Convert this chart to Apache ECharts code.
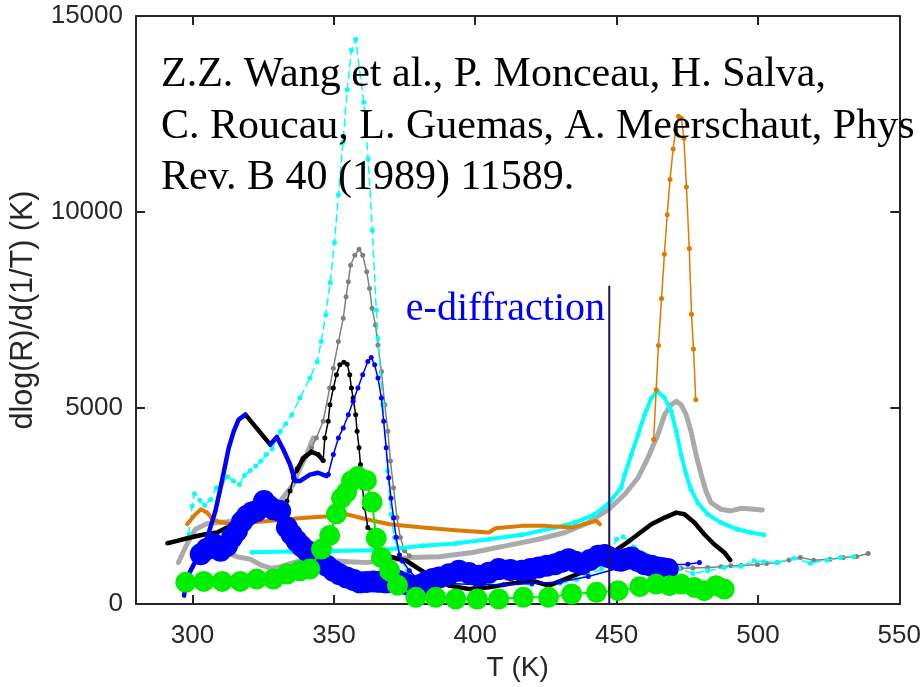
<!DOCTYPE html>
<html><head><meta charset="utf-8">
<script src="https://cdn.jsdelivr.net/npm/echarts@6/dist/echarts.min.js"></script>
<style>html,body{margin:0;padding:0;background:#fff}#c{width:924px;height:687px}</style>
</head><body><div id="c"></div>
<script>
const xTicks = [300,350,400,450,500,550];
const yTicks = [0,5000,10000,15000];
const xTitle = 'T (K)';
const yTitle = 'dlog(R)/d(1/T) (K)';
const refLines = ['Z.Z. Wang et al., P. Monceau, H. Salva,', 'C. Roucau, L. Guemas, A. Meerschaut, Phys', 'Rev. B 40 (1989) 11589.'];
const eLabel = 'e-diffraction';
const eDiffLine = [[447.4,0],[447.4,8100]];

const cyanDash = [[298.7,1780],[299.9,2501],[300.7,2814],[302.6,2644],[304.3,2517],[306.4,2669],[308.4,2966],[310.5,3094],[312.4,3246],[314.5,3137],[316.6,3050],[318.4,3279],[320.4,3406],[322.3,3518],[324.2,3645],[326.1,3813],[328.1,3960],[331,4408],[333,4600],[335.1,4830],[338,5254],[341.5,5763],[344.1,6187],[345.5,6696],[347.1,7372],[348.7,8195],[350.2,9220],[351.6,10440],[353.2,11780],[354.7,13117],[356.2,14134],[357.7,14405],[360.6,12797],[362.1,11355],[363.6,9533],[365,7499],[365.6,6772],[367.3,5080],[369,3391],[370.2,2288],[371.4,1695],[372.6,1441],[374,1100],[376,850],[380,650],[385,560],[390,530],[400,500],[410,490],[420,500],[430,530],[436,620],[440,763],[444.7,890],[448.2,1400],[450,1650],[452.3,1713],[454.5,1600],[456.4,1441],[459.9,1271],[463,1130],[467,1017],[472,900],[477,780],[482.2,849],[488,930],[494,960],[498.6,1103],[502,1080],[506.8,1060],[512.7,1169],[518.6,1042],[524.4,1119],[529.1,1187],[533.8,1205]];

const cyanThick = [[321,1322],[335,1340],[350,1350],[365,1370],[373,1420],[381.4,1484],[393.1,1543],[404.8,1652],[416.5,1764],[428.2,1950],[435.2,2077],[442.2,2288],[446.9,2542],[451.6,2966],[452.9,3305],[455.2,3813],[457.6,4321],[459.9,4830],[462.3,5254],[464.4,5425],[467,5254],[469.3,4916],[471.1,4408],[472.8,3813],[474.6,3305],[476.3,2923],[478.7,2585],[482.2,2288],[486.9,2077],[492.7,1906],[497.4,1823],[502.1,1764]];

const grayUpper = [[295,1060],[298,1525],[301,1906],[305,2050],[309,2077],[315,2110],[322,2170],[328,2350],[331,2628],[335.7,3050],[337.5,3391],[340.4,3813],[342.7,4237]];

const grayDot = [[342.1,3983],[343.8,4237],[346.2,4662],[348.5,5509],[349.8,6017],[351.6,6696],[353.3,7288],[354.3,7840],[355.1,8221],[355.9,8643],[357.4,8897],[358.9,9050],[360.2,8897],[361.6,8475],[362.6,8050],[363.5,7542],[364.7,7118],[365.6,6600],[366.8,5932],[368,5084],[369.1,4408],[370,3645],[371.1,2966],[372.3,2204],[373.5,1695],[375,1357],[376.7,1230]];

const grayDot2 = [[462,960],[466,930],[472.8,915],[477,920],[482.2,933],[486.9,950],[490.4,975],[494,985],[499.8,1000],[503,1030],[506.8,1060],[511,1120],[515,1187],[519.7,1119],[525.5,1144],[530.2,1187],[534.9,1212],[539,1289]];

const grayLower = [[313.4,1271],[316,1200],[320.4,1144],[324,1000],[327.5,915],[330,930],[333.4,1002],[337,1080],[340.4,1103],[345,1100],[349.8,1103],[355,1080],[361.5,1060],[367,1100],[373.2,1144],[376.7,1187],[387.2,1205],[399,1314],[410.7,1484],[422.4,1652],[431.8,1823],[440,2077],[443.5,2250],[447,2400],[452.9,2800],[457.6,3221],[461.1,3729],[464.6,4322],[467,4830],[469.3,5084],[471.1,5170],[472.8,5084],[474.6,4830],[476.3,4408],[478.1,3813],[479.9,3305],[481.6,2882],[483.4,2585],[486.9,2415],[490.4,2374],[494,2440],[498.6,2415],[501.5,2400]];

const orangeLow = [[298.1,2034],[300.5,2247],[302.9,2415],[305.2,2331],[307,2161],[309.9,2090],[314,2034],[320,2080],[327,2120],[333.4,2161],[340,2200],[349.8,2247],[354.5,2288],[361.5,2161],[369.7,2034],[381.4,1950],[393.1,1881],[404.8,1823],[407.2,1932],[416.5,1993],[424.8,1993],[434.1,1950],[442.9,2120],[444.1,2034]];

const orangePeak = [[463.1,4195],[464,5466],[464.8,6594],[465.9,7796],[466.9,8922],[467.9,9932],[468.9,10829],[470,11609],[470.9,12100],[471.9,12440],[472.9,12390],[473.8,11881],[474.7,10636],[475.7,9068],[476.5,7389],[477.2,6508],[478,5211]];

const blackStart = [[291.1,1551],[294.6,1611],[298.1,1678],[301.1,1729],[304.6,1780],[308.7,1823],[312.2,1950]];
const blackKink = [[318.7,4830],[327.5,4067]];
const blackShoulder = [[336.8,3391],[339.2,3729],[342.1,3882],[344.4,3813],[346.2,3660]];
const blackDot = [[329.8,2204],[331.6,2415],[333.4,2628],[334.5,2882],[335.7,3221],[337,3450],[339,3700],[342,3880],[344.4,3813],[346.2,3660],[346.8,4237],[348,4662],[348.6,5084],[349.8,5509],[350.9,5847],[352.1,6101],[353.5,6169],[354.7,6118],[355.6,5847],[356.2,5509],[356.8,5254],[357.7,4830],[358.2,4408],[358.9,3983],[359.4,3559],[360.1,2966],[360.9,2458],[362,1950],[363.2,1866],[363.8,1695],[365,1314]];
const blackTail = [[365,1314],[368,1230],[371,1187],[375.6,1103],[380.2,890],[384.9,679],[390.8,468],[397.8,381],[404.8,424],[413,526],[420,595],[426,468],[431.8,636],[437.7,806],[443.5,1017],[448.2,1300],[452.9,1525],[457.6,1779],[462.3,2034],[467,2204],[471.1,2331],[474,2288],[477.5,2077],[481,1780],[484.5,1525],[488.1,1314],[490.2,1119]];

const blueRise = [[297,214],[298.1,679],[300.5,1017],[303,1350],[305.2,1695],[308.1,2374],[309.9,2966],[311.6,3559],[312.8,3983],[314.6,4408],[316.3,4703],[318.7,4830]];
const blueMid = [[327.5,4067],[329.8,4260],[332.1,3940],[334.5,3559],[336.3,3137],[338,3137],[341.5,3300],[344.4,3348],[347.4,3264],[348,3305]];
const blueDot = [[348,3305],[349.8,3813],[351.6,4237],[353.3,4492],[355.1,4830],[356.8,5170],[358.5,5509],[360.2,5847],[362,6187],[363.2,6289],[364.4,6101],[365.6,5763],[366.8,5254],[367.6,4662],[368.5,3983],[369.4,3221],[370.2,2700],[371.1,2200],[372,1700],[373.2,1250],[374.3,1100],[376.7,849],[380.2,595],[390,520],[400,500],[410,490],[420,520],[430,560],[440,700],[450,900],[460,950],[470,1000],[475.2,1017],[479.3,1060]];

const blueBlobs = [[302.9,1271],[305,1400],[307.6,1525],[309.9,1357],[312.2,1484],[314,1700],[315.7,1866],[317.5,2100],[319.2,2247],[321,2331],[322.7,2374],[325.3,2628],[327,2500],[328.6,2415],[331,2374],[333.4,1950],[335,1780],[336.8,1611],[338.5,1480],[340.4,1357],[342.7,1230],[345.1,1103],[347.5,975],[349.8,849],[352,760],[354.5,679],[357,610],[359.2,552],[361.5,560],[363.9,577],[366,565],[368.5,552],[370.5,580],[372.6,595],[375,520],[377,470],[379,424],[381,500],[383,580],[385,640],[387.2,679],[390.7,760],[394.2,849],[397.7,790],[401.3,722],[404.8,800],[408.3,890],[412.4,870],[416.5,849],[419.5,890],[422.4,933],[425.3,975],[428.2,1017],[430.6,1080],[433,1144],[435.4,1080],[437.7,1017],[440.6,1120],[443.5,1230],[445.8,1250],[447,1200],[449,1150],[451.6,1103],[453.5,1150],[455.2,1187],[457.5,1100],[459.9,1017],[462.3,975],[464.6,933],[466.5,910],[468.1,890]];

const greenBlobs = [[297.6,552],[304,577],[310.5,577],[316.9,577],[322.7,636],[328.6,636],[333.4,763],[338,849],[341.5,890],[345.6,1400],[348.5,1750],[350.9,2300],[352.7,2700],[354.5,2850],[356.2,3137],[358.5,3250],[361.5,3150],[363.5,2600],[365,1680],[366.8,1187],[369.7,849],[372.5,480],[379,170],[386,170],[393.1,127],[400.7,127],[408.3,127],[417,170],[425.9,170],[434.1,254],[442.9,297],[450.5,340],[458.2,442],[464,508],[468.7,468],[472.8,508],[477.5,424],[481,340],[485.2,468],[488.1,381]];

const chart = echarts.init(document.getElementById('c'), null, {renderer:'canvas'});
const AX = '#262626';
function ln(data, color, width, sym, symSize, z, dash){
  return {type:'line', data:data, z:z||2, silent:true, animation:false,
    lineStyle:{color:color, width:width, type:dash?[7,5]:'solid', cap:'round', join:'round'},
    itemStyle:{color:color, borderWidth:0},
    symbol: sym ? 'circle' : 'none', showSymbol: !!sym, symbolSize: symSize||4};
}
function axX(pos, lab){
  return {type:'value', position:pos, min:280, max:550,
    axisLine:{show:true, onZero:false, lineStyle:{color:AX, width:2}},
    axisTick:{show:true, inside:true, length:9, customValues:xTicks, lineStyle:{color:AX, width:2}},
    axisLabel:{show:lab, customValues:xTicks, formatter:(v)=>String(v), color:AX, fontFamily:'Liberation Sans', fontSize:26, margin:19},
    splitLine:{show:false},
    name: lab ? xTitle : '', nameLocation:'middle', nameGap:50,
    nameTextStyle:{color:AX, fontFamily:'Liberation Sans', fontSize:28}};
}
function axY(pos, lab){
  return {type:'value', position:pos, min:0, max:15000, interval:5000,
    axisLine:{show:true, onZero:false, lineStyle:{color:AX, width:2}},
    axisTick:{show:true, inside:true, length:9, lineStyle:{color:AX, width:2}},
    axisLabel:{show:lab, formatter:(v)=>String(v), color:AX, fontFamily:'Liberation Sans', fontSize:26, margin:13},
    splitLine:{show:false},
    name: lab ? yTitle : '', nameLocation:'middle', nameGap:97, nameRotate:90,
    nameTextStyle:{color:AX, fontFamily:'Liberation Sans', fontSize:30.5}};
}
const serif = '"Liberation Serif", "Times New Roman", serif';
const texts = refLines.map((t,i)=>({type:'text', left:161, top:53.9 + i*51.7, z:100,
  style:{text:t, font:'42px ' + serif, fill:'#000', verticalAlign:'middle', textVerticalAlign:'middle'}}));
chart.setOption({
  animation:false,
  backgroundColor:'#fff',
  grid:{left:135, right:22, top:16, bottom:80, containLabel:false},
  xAxis:[axX('bottom', true), axX('top', false)],
  yAxis:[axY('left', true), axY('right', false)],
  series:[
    ln(grayLower, '#aaaaaa', 5, false, 0, 2),
    ln(grayUpper, '#aaaaaa', 5, false, 0, 2),
    ln(grayDot, '#808080', 1.5, true, 5, 3),
    ln(grayDot2, '#808080', 1.5, true, 5, 3),
    ln(cyanDash, '#00ffff', 1.5, true, 5, 4, true),
    ln(cyanThick, '#00ffff', 4, true, 5, 4),
    ln(orangeLow, '#dd7a00', 4, false, 0, 5),
    ln(orangePeak, '#dd7a00', 1.5, true, 5, 5),
    ln(blackStart, '#000000', 4.5, false, 0, 6),
    ln(blackKink, '#000000', 4.5, false, 0, 6),
    ln(blackShoulder, '#000000', 4.5, false, 0, 6),
    ln(blackDot, '#000000', 1.5, true, 5, 6),
    ln(blackTail, '#000000', 4.5, false, 0, 6),
    ln(blueRise, '#0000ff', 4.5, false, 0, 7),
    ln(blueMid, '#0000ff', 4.5, false, 0, 7),
    ln(blueDot, '#0000ff', 1.5, true, 5, 7),
    ln(blueBlobs, '#0000ff', 12, true, 22, 8),
    ln(greenBlobs, '#00ee00', 2, true, 21, 9),
    ln(eDiffLine, '#1f1060', 2, false, 0, 20)
  ],
  graphic: texts.concat([{type:'text', right:924-605, top:289.5, z:100,
    style:{text:eLabel, font:'40px ' + serif, fill:'#0000ff', verticalAlign:'middle', textVerticalAlign:'middle'}}])
});
</script></body></html>
